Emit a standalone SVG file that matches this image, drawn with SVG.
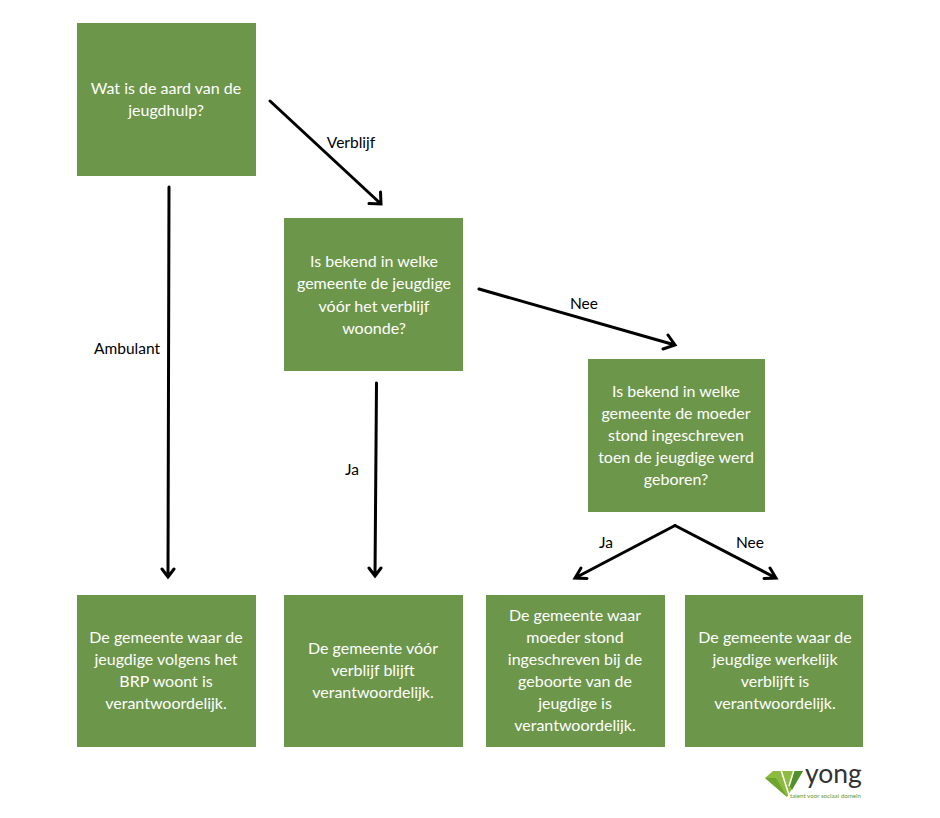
<svg xmlns="http://www.w3.org/2000/svg" width="940" height="818" viewBox="0 0 940 818">
<style>
.box{fill:#6c9649}
.t{font-family:"Lato","Noto Sans",sans-serif;font-size:16px;fill:#fff;text-anchor:middle}
.l{font-family:"Lato","Noto Sans",sans-serif;font-size:15.500px;fill:#000;text-anchor:middle}
.c{fill:none;stroke:#000;stroke-width:3;stroke-linecap:round;stroke-linejoin:miter}
</style>
<rect width="940" height="818" fill="#fff"/>
<g id="connectors">
<path class="c" d="M270 101L381 204M369 203.500L381 204L380.500 192"/>
<path class="c" d="M169 187L168 577M162 569L168 577L174 569"/>
<path class="c" d="M479 289L675 345M663 349L675 345L668 335"/>
<path class="c" d="M376.500 383L375 576M369 568L375 576L381 568"/>
<path class="c" d="M675 525.500L575 578M587 578.500L575 578L581 568"/>
<path class="c" d="M675 525.500L776 578M764 578.500L776 578L770 568"/>
</g>
<g id="labels">
<text class="l" x="351" y="148">Verblijf</text>
<text class="l" x="127" y="354">Ambulant</text>
<text class="l" x="584" y="309">Nee</text>
<text class="l" x="352" y="475">Ja</text>
<text class="l" x="606" y="548">Ja</text>
<text class="l" x="750" y="548">Nee</text>
</g>
<g id="n1"><rect class="box" x="77" y="23" width="179" height="153"/>
<text class="t" x="166" y="94">Wat is de aard van de</text><text class="t" x="166" y="116">jeugdhulp?</text></g>
<g id="n2"><rect class="box" x="284" y="218" width="179" height="153"/>
<text class="t" x="374" y="267">Is bekend in welke</text><text class="t" x="374" y="289">gemeente de jeugdige</text><text class="t" x="374" y="312">vóór het verblijf</text><text class="t" x="374" y="334">woonde?</text></g>
<g id="n3"><rect class="box" x="588" y="359" width="177" height="153"/>
<text class="t" x="676" y="397">Is bekend in welke</text><text class="t" x="676" y="419">gemeente de moeder</text><text class="t" x="676" y="441">stond ingeschreven</text><text class="t" x="676" y="463">toen de jeugdige werd</text><text class="t" x="676" y="485">geboren?</text></g>
<g id="n4"><rect class="box" x="77" y="595" width="179" height="152"/>
<text class="t" x="166" y="643">De gemeente waar de</text><text class="t" x="166" y="665">jeugdige volgens het</text><text class="t" x="166" y="687">BRP woont is</text><text class="t" x="166" y="709">verantwoordelijk.</text></g>
<g id="n5"><rect class="box" x="284" y="595" width="179" height="152"/>
<text class="t" x="373" y="654">De gemeente vóór</text><text class="t" x="373" y="676">verblijf blijft</text><text class="t" x="373" y="698">verantwoordelijk.</text></g>
<g id="n6"><rect class="box" x="486" y="595" width="179" height="152"/>
<text class="t" x="575" y="621">De gemeente waar</text><text class="t" x="575" y="643">moeder stond</text><text class="t" x="575" y="665">ingeschreven bij de</text><text class="t" x="575" y="687">geboorte van de</text><text class="t" x="575" y="709">jeugdige is</text><text class="t" x="575" y="731">verantwoordelijk.</text></g>
<g id="n7"><rect class="box" x="685" y="595" width="178" height="152"/>
<text class="t" x="775" y="643">De gemeente waar de</text><text class="t" x="775" y="665">jeugdige werkelijk</text><text class="t" x="775" y="687">verblijft is</text><text class="t" x="775" y="709">verantwoordelijk.</text></g>
<g id="logo">
<polygon points="765,778 773,771 795,771 803,771 787,797" fill="#8dbb3f"/>
<polygon points="765,778 787,797 776,778" fill="#6ea52f"/>
<polygon points="790,786 794,771 803,771 792,790" fill="#4f8f2c"/>
<path d="M781 770L789 795M789 786L794 770" fill="none" stroke="#fff" stroke-width="1.500"/>
<text x="805" y="783" font-family="Lato,'Noto Sans',sans-serif" font-size="26.500" fill="#333">yong</text>
<text x="790" y="798" font-family="Lato,'Noto Sans',sans-serif" font-size="6.200" fill="#5e9a35">talent voor sociaal domein</text>
</g>
</svg>
